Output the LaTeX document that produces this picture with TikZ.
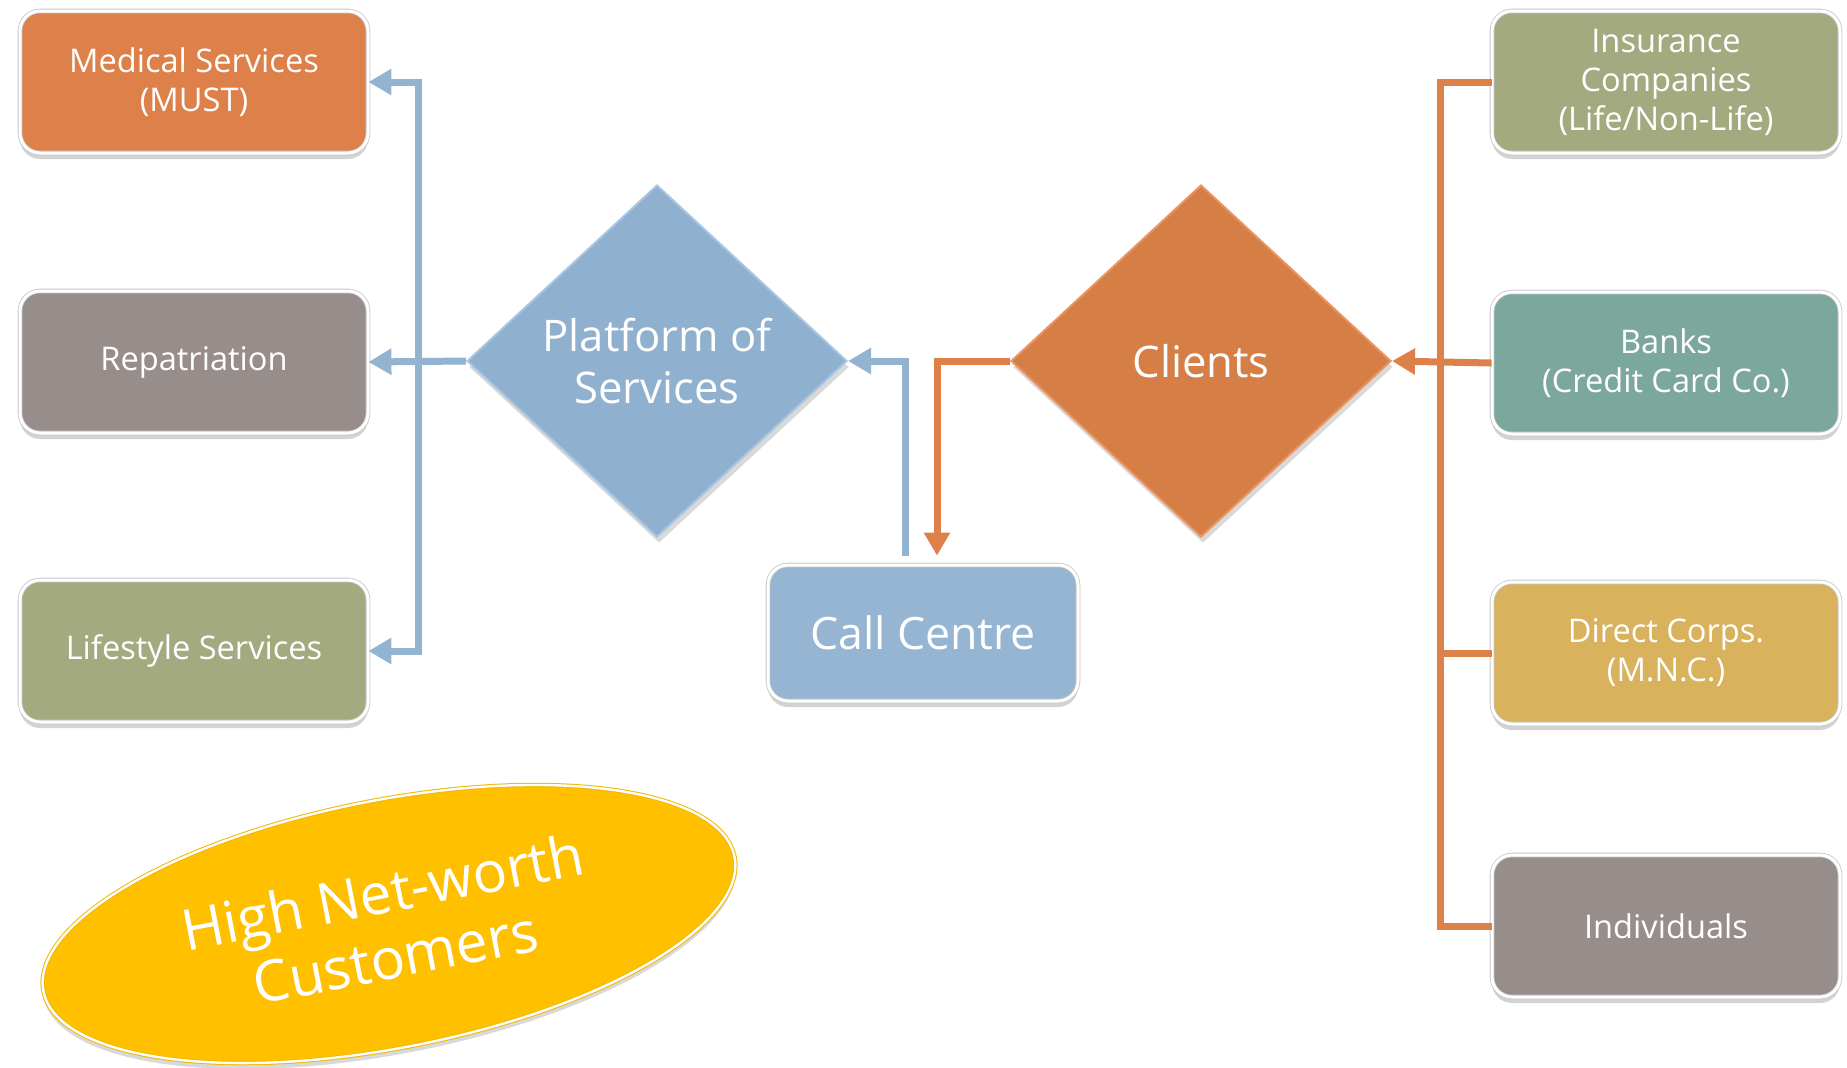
\documentclass[tikz,border=0pt]{standalone}
\usepackage{fontspec}
\setmainfont{Open Sans}
\usetikzlibrary{shapes.geometric,shadows,arrows.meta,calc}
\definecolor{cMed}{HTML}{DE8049}
\definecolor{cRep}{HTML}{978D8B}
\definecolor{cLife}{HTML}{A4AA80}
\definecolor{cBank}{HTML}{7BA79C}
\definecolor{cDC}{HTML}{D9B25E}
\definecolor{cPlat}{HTML}{8FB0CE}
\definecolor{cPlatE}{HTML}{A8C6E2}
\definecolor{cCli}{HTML}{D57E46}
\definecolor{cCliE}{HTML}{EC9460}
\definecolor{cCall}{HTML}{95B5D3}
\definecolor{cBlue}{HTML}{93B4D1}
\definecolor{cOra}{HTML}{DE8049}
\definecolor{cEll}{HTML}{FFC000}
\definecolor{cEllE}{HTML}{F2B800}
\begin{document}
\begin{tikzpicture}[x=0.5pt,y=-0.5pt,
  box/.style={rounded corners=10pt, minimum width=174pt, minimum height=71pt,
    inner sep=0pt, align=center, text=white,
    font=\fontsize{16.3}{19.5}\selectfont,
    draw=black!22, double=white, double distance=1.5pt, line width=0.4pt,
    drop shadow={shadow xshift=0pt, shadow yshift=-3pt, opacity=0.35}},
  dia/.style={diamond, minimum width=190pt, minimum height=176pt, inner sep=0pt,
    align=center, text=white, line width=1pt,
    font=\fontsize{21.8}{26}\selectfont,
    drop shadow={shadow xshift=1pt, shadow yshift=-3pt, opacity=0.3}},
  bconn/.style={draw=cBlue, line width=3.5pt},
  oconn/.style={draw=cOra, line width=3.5pt},
  tip/.tip={Triangle[length=11.5pt,width=12.5pt]}
]
\useasboundingbox (0,0) rectangle (1847,1067);

% left boxes
\node[box, fill=cMed] (med) at (194,82) {Medical Services\\(MUST)};
\node[box, fill=cRep] (rep) at (194,362) {Repatriation};
\node[box, fill=cLife] (life) at (194,651) {Lifestyle Services};
% right boxes
\node[box, fill=cLife] (ins) at (1666,82) {Insurance\\Companies\\(Life/Non-Life)};
\node[box, fill=cBank] (bank) at (1666,363) {Banks\\(Credit Card Co.)};
\node[box, fill=cDC] (dc) at (1666,653) {Direct Corps.\\(M.N.C.)};
\node[box, fill=cRep] (ind) at (1666,926) {Individuals};
% diamonds
\node[dia, fill=cPlat, draw=cPlatE] (plat) at (657,361) {Platform of\\Services};
\node[dia, fill=cCli, draw=cCliE] (cli) at (1201,361) {Clients};
% call centre
\node[box, fill=cCall, minimum width=155pt, minimum height=68pt,
  font=\fontsize{22.3}{26}\selectfont] (cc) at (923,633) {Call Centre};
% ellipse
\node[ellipse, fill=cEll, draw=cEllE, double=white, double distance=1.2pt, line width=0.5pt,
  minimum width=352pt, minimum height=124pt, rotate=11, inner sep=0pt,
  align=center, text=white, font=\fontsize{28.5}{33}\selectfont,
  drop shadow={shadow xshift=0pt, shadow yshift=-3pt, opacity=0.3}] (hnw) at (389,924)
  {High Net-worth\\Customers};

% connectors
\coordinate (bl) at (418,0);
\coordinate (br) at (1440,0);
\coordinate (ccb) at ($(cc.north)+(-18,-9)$);
\coordinate (cco) at ($(cc.north)+(14,-9)$);

\draw[bconn, {tip}-{tip}] (med.east) -- (bl |- med.east) -- (bl |- life.east) -- (life.east);
\draw[bconn, -{tip}] (plat.west) -- (rep.east);
\draw[bconn, -{tip}] (ccb) -- (ccb |- plat.east) -- (plat.east);

\draw[oconn, -{tip}] (cli.west) -- (cli.west -| cco) -- (cco);
\draw[oconn] (ins.west) -- (br |- ins.west) -- (br |- ind.west) -- (ind.west);
\draw[oconn] (dc.west) -- (br |- dc.west);
\draw[oconn, -{tip}] (bank.west) -- (cli.east);
\end{tikzpicture}
\end{document}
